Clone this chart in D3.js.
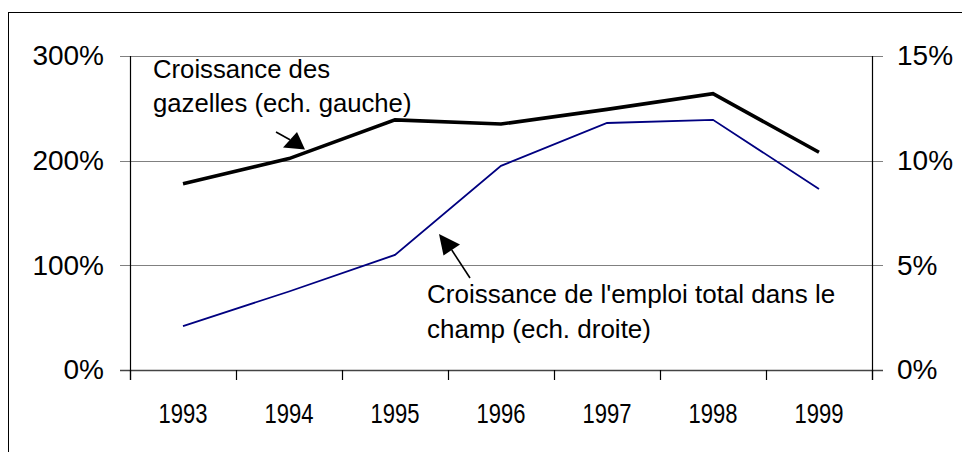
<!DOCTYPE html>
<html><head><meta charset="utf-8">
<script src="https://cdn.jsdelivr.net/npm/d3@7"></script>
<style>
html,body{margin:0;padding:0;background:#fff;}
svg{display:block;font-family:"Liberation Sans",Arial,sans-serif;}
</style></head>
<body>
<svg id="chart" width="962" height="452"></svg>
<script>
const years = ["1993","1994","1995","1996","1997","1998","1999"];
const gazelles = [178, 202, 239, 235, 249, 264, 208];      // % (left scale)
const emploiTotal = [2.1, 3.75, 5.5, 9.75, 11.8, 11.95, 8.65]; // % (right scale)
const leftTicks = [0, 100, 200, 300];
const rightTicks = [0, 5, 10, 15];
const labelGazelles = ["Croissance des", "gazelles (ech. gauche)"];
const labelEmploi = ["Croissance de l'emploi total dans le", "champ (ech. droite)"];

const svg = d3.select("#chart");
const L = 130, R = 872, T = 56, B = 370;
const FONT = "Liberation Sans, Arial, sans-serif";

const x = d3.scaleBand().domain(years).range([L, R]).padding(0);
const yL = d3.scaleLinear().domain([0, 300]).range([B, T]);
const yR = d3.scaleLinear().domain([0, 15]).range([B, T]);

// outer frame
svg.append("rect").attr("x", 8.5).attr("y", 12.5).attr("width", 1000).attr("height", 500)
  .attr("fill", "none").attr("stroke", "#000").attr("stroke-width", 1);

// gridlines
svg.append("g").selectAll("line").data(leftTicks).join("line")
  .attr("x1", L - 10).attr("x2", R + 11)
  .attr("y1", d => Math.round(yL(d)) + 0.5).attr("y2", d => Math.round(yL(d)) + 0.5)
  .attr("stroke", d => d === 0 ? "#444" : "#808080").attr("stroke-width", d => d === 0 ? 1.5 : 1.2);

// left axis labels
const axL = d3.axisLeft(yL).tickValues(leftTicks).tickFormat(d => d + "%").tickSize(0).tickPadding(26);
const gL = svg.append("g").attr("transform", `translate(${L},0)`).call(axL);
gL.select(".domain").remove();
gL.selectAll("text").attr("font-size", 28).attr("fill", "#000").attr("font-family", FONT);

// right axis labels
const axR = d3.axisRight(yR).tickValues(rightTicks).tickFormat(d => d + "%").tickSize(0).tickPadding(25);
const gR = svg.append("g").attr("transform", `translate(${R},0)`).call(axR);
gR.select(".domain").remove();
gR.selectAll("text").attr("font-size", 28).attr("fill", "#000").attr("font-family", FONT);

// axis lines
svg.append("line").attr("x1", L + 0.5).attr("x2", L + 0.5).attr("y1", T).attr("y2", B + 10)
  .attr("stroke", "#000").attr("stroke-width", 1.2);
svg.append("line").attr("x1", R + 0.5).attr("x2", R + 0.5).attr("y1", T).attr("y2", B + 10)
  .attr("stroke", "#000").attr("stroke-width", 1.2);

// x ticks at band boundaries
const bounds = years.map(d => x(d)).concat([x.range()[1]]);
svg.append("g").selectAll("line").data(bounds).join("line")
  .attr("x1", d => Math.round(d) + 0.5).attr("x2", d => Math.round(d) + 0.5)
  .attr("y1", B).attr("y2", B + 10).attr("stroke", "#000").attr("stroke-width", 1.2);

// x labels
const axX = d3.axisBottom(x).tickSize(0).tickPadding(33);
const gX = svg.append("g").attr("transform", `translate(0,${B})`).call(axX);
gX.select(".domain").remove();
gX.selectAll("text").attr("font-size", 28).attr("fill", "#000").attr("font-family", FONT)
  .attr("textLength", 49).attr("lengthAdjust", "spacingAndGlyphs");

// lines
const cx = d => x(d) + x.bandwidth() / 2;
svg.append("path").datum(emploiTotal)
  .attr("d", d3.line().x((d, i) => cx(years[i])).y(d => yR(d)))
  .attr("fill", "none").attr("stroke", "#000080").attr("stroke-width", 1.8);
svg.append("path").datum(gazelles)
  .attr("d", d3.line().x((d, i) => cx(years[i])).y(d => yL(d)))
  .attr("fill", "none").attr("stroke", "#000").attr("stroke-width", 3.6);

// annotations
function textBlock(lines, xPos, y0, lh, fs) {
  const t = svg.append("text").attr("x", xPos).attr("y", y0).attr("font-size", fs).attr("fill", "#000");
  lines.forEach((s, i) => t.append("tspan").attr("x", xPos).attr("y", y0 + i * lh).text(s));
}
textBlock(labelGazelles, 153, 78, 34, 25.7);
textBlock(labelEmploi, 427, 303, 35, 26);

// arrows
function arrow(x1, y1, tip, a, b) {
  svg.append("line").attr("x1", x1).attr("y1", y1)
    .attr("x2", (a[0] + b[0]) / 2).attr("y2", (a[1] + b[1]) / 2)
    .attr("stroke", "#000").attr("stroke-width", 1.6);
  svg.append("polygon").attr("points", [tip, a, b].map(p => p.join(",")).join(" ")).attr("fill", "#000");
}
arrow(276, 132, [305, 149.5], [297, 132], [283, 147.5]);
arrow(470, 278, [439, 234], [460, 244.5], [443.5, 255.5]);
</script>
</body></html>
